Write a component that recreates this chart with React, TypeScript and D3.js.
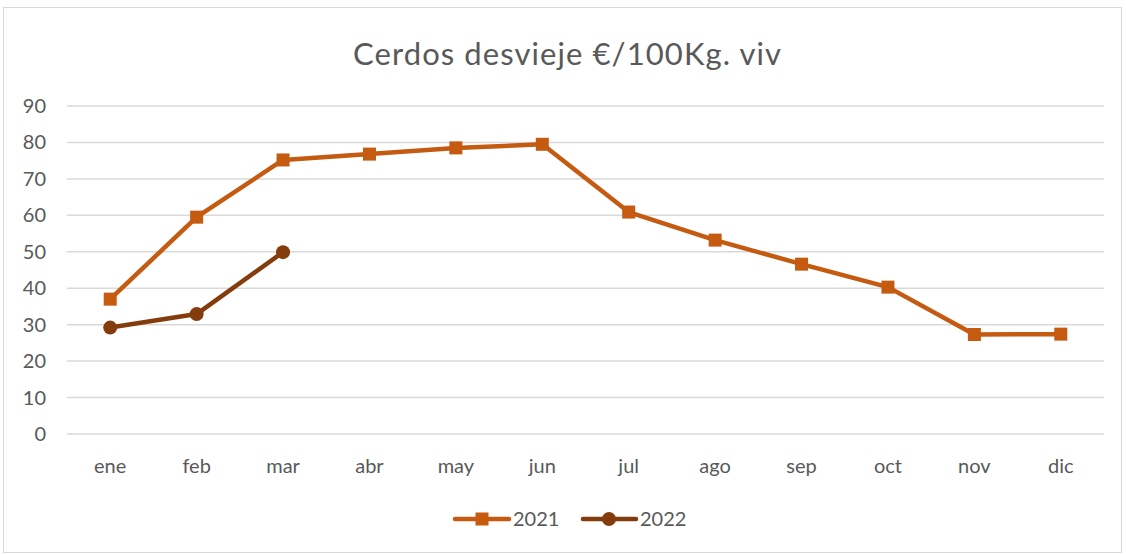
import React from "react";
import * as d3 from "d3";

const months = ["ene", "feb", "mar", "abr", "may", "jun", "jul", "ago", "sep", "oct", "nov", "dic"];
const values2021 = [37.0, 59.5, 75.2, 76.8, 78.5, 79.5, 60.9, 53.2, 46.6, 40.3, 27.3, 27.4];
const values2022 = [29.2, 32.9, 49.9];
const yTicks = [0, 10, 20, 30, 40, 50, 60, 70, 80, 90];
const title = "Cerdos desvieje €/100Kg. viv";

const W = 1126, H = 554;
const FONT = "Lato, 'Open Sans', sans-serif";
const C2021 = "#C55A11";
const C2022 = "#843C0C";
const TXT = "#595959";

export default function App() {
  const x = d3.scaleBand<string>().domain(months).range([67, 1104]);
  const y = d3.scaleLinear().domain([0, 90]).range([434, 106]);
  const cx = (m: string) => (x(m) as number) + x.bandwidth() / 2;
  const line = d3.line<number>().x((_, i) => cx(months[i])).y((d) => y(d));

  return (
    <svg width={W} height={H} style={{ position: "fixed", left: 0, top: 0 }} fontFamily={FONT}>
      <rect x={0} y={0} width={W} height={H} fill="#fff" />
      <rect x={3.5} y={7.5} width={1118} height={545} fill="none" stroke="#d9d9d9" strokeWidth={1} />
      <text x={567} y={65} textAnchor="middle" fontSize={31} fill={TXT} textLength={428} lengthAdjust="spacing">{title}</text>
      {yTicks.map((t) => (
        <g key={t}>
          <line x1={67} x2={1104} y1={y(t)} y2={y(t)} stroke="#d9d9d9" strokeWidth={1.5} />
          <text x={46} y={y(t)} dy="0.35em" textAnchor="end" fontSize={20} fill={TXT}>{t}</text>
        </g>
      ))}
      {months.map((m) => (
        <text key={m} x={cx(m)} y={473} textAnchor="middle" fontSize={20} fill={TXT}>{m}</text>
      ))}
      <path d={line(values2021) || ""} fill="none" stroke={C2021} strokeWidth={4.5} strokeLinejoin="round" />
      {values2021.map((v, i) => (
        <rect key={i} x={cx(months[i]) - 6.5} y={y(v) - 6.5} width={13} height={13} fill={C2021} />
      ))}
      <path d={line(values2022) || ""} fill="none" stroke={C2022} strokeWidth={4.5} strokeLinejoin="round" />
      {values2022.map((v, i) => (
        <circle key={i} cx={cx(months[i])} cy={y(v)} r={7} fill={C2022} />
      ))}
      <g>
        <line x1={455} x2={509} y1={519} y2={519} stroke={C2021} strokeWidth={4.5} strokeLinecap="round" />
        <rect x={475.5} y={512.5} width={13} height={13} fill={C2021} />
        <text x={513} y={519} dy="0.35em" fontSize={20} fill={TXT}>2021</text>
        <line x1={583} x2={636} y1={519} y2={519} stroke={C2022} strokeWidth={4.5} strokeLinecap="round" />
        <circle cx={609} cy={519} r={7} fill={C2022} />
        <text x={640} y={519} dy="0.35em" fontSize={20} fill={TXT}>2022</text>
      </g>
    </svg>
  );
}
